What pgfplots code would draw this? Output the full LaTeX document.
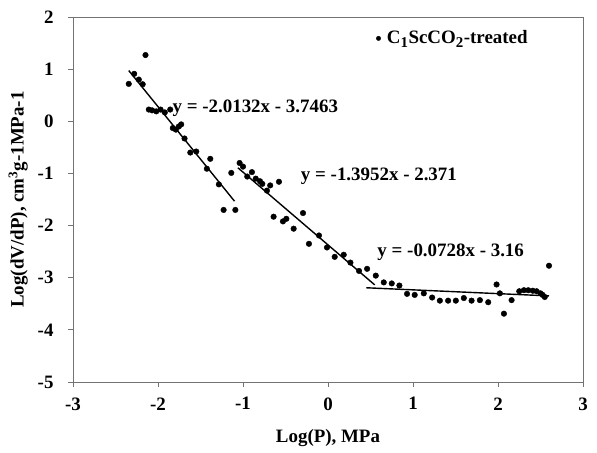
\documentclass[border=0pt]{standalone}
\usepackage{pgfplots}
\pgfplotsset{compat=1.18}
\usepackage{fontspec}
\setmainfont{Liberation Serif}
\begin{document}
\fontsize{19}{22}\selectfont\bfseries
\begin{tikzpicture}
\begin{axis}[
  name=ax,
  scale only axis,
  width=510bp, height=365bp,
  xmin=-3, xmax=3, ymin=-5, ymax=2,
  xtick={-3,-2,...,3}, ytick={-5,-4,...,2},
  axis line style={draw=gray!90!black, line width=0.8pt},
  tick style={draw=gray!90!black, line width=0.8pt},
  tick align=outside,
  major tick length=5bp,
  xtick pos=bottom, ytick pos=left,
  /pgf/number format/assume math mode=true,
  ticklabel style={font=\fontsize{19}{22}\selectfont\bfseries},
  xticklabel style={yshift=-4bp},
  yticklabel style={xshift=-8bp},
  xlabel={Log(P), MPa},
  ylabel={Log(dV/dP), cm\textsuperscript{3}g-1MPa-1},
  label style={font=\fontsize{19}{22}\selectfont\bfseries},
  xlabel style={yshift=-6bp},
  ylabel style={yshift=-3bp},
  legend style={draw=none, fill=none, at={(0.592,0.972)}, anchor=north west,
    font=\fontsize{19}{22}\selectfont\bfseries, inner sep=1pt},
  legend cell align=left,
  legend image code/.code={\fill[black] (0.15cm,0cm) circle (2.2bp);},
  clip=false,
]
\addplot[only marks, mark=*, mark size=2.8bp, color=black] table {
x y
-2.344 0.717
-2.28 0.91
-2.226 0.80
-2.18 0.71
-2.147 1.27
-2.108 0.225
-2.07 0.21
-2.02 0.19
-1.97 0.225
-1.92 0.17
-1.856 0.225
-1.826 -0.13
-1.79 -0.16
-1.755 -0.10
-1.727 -0.06
-1.688 -0.33
-1.62 -0.60
-1.55 -0.58
-1.425 -0.91
-1.385 -0.72
-1.284 -1.21
-1.228 -1.70
-1.138 -0.99
-1.09 -1.70
-1.04 -0.80
-1.00 -0.87
-0.95 -1.06
-0.895 -0.975
-0.85 -1.10
-0.80 -1.15
-0.773 -1.20
-0.718 -1.33
-0.68 -1.23
-0.64 -1.83
-0.577 -1.16
-0.53 -1.92
-0.49 -1.87
-0.404 -2.06
-0.294 -1.76
-0.224 -2.35
-0.106 -2.19
-0.012 -2.42
0.079 -2.60
0.185 -2.56
0.264 -2.71
0.365 -2.87
0.46 -2.83
0.562 -2.96
0.656 -3.09
0.75 -3.11
0.84 -3.15
0.93 -3.31
1.02 -3.33
1.127 -3.30
1.225 -3.38
1.316 -3.44
1.413 -3.44
1.504 -3.44
1.598 -3.39
1.689 -3.44
1.787 -3.43
1.885 -3.47
1.983 -3.13
2.022 -3.30
2.07 -3.69
2.16 -3.43
2.25 -3.26
2.305 -3.24
2.356 -3.24
2.41 -3.25
2.455 -3.26
2.50 -3.30
2.525 -3.33
2.55 -3.37
2.60 -2.77
};
\addlegendentry{\hspace{4bp}C\textsubscript{\fontsize{15}{15}\selectfont 1}ScCO\textsubscript{\fontsize{15}{15}\selectfont 2}-treated}
\addplot[black, line width=1.4pt, forget plot] coordinates {(-2.344,0.973) (-1.10,-1.532)};
\addplot[black, line width=1.4pt, forget plot] coordinates {(-1.06,-0.892) (0.55,-3.138)};
\addplot[black, line width=1.4pt, forget plot] coordinates {(0.45,-3.193) (2.6,-3.349)};
\node[anchor=west, inner sep=0pt] at (axis cs:-1.83,0.25) {y = -2.0132x - 3.7463};
\node[anchor=west, inner sep=0pt] at (axis cs:-0.32,-1.06) {y = -1.3952x - 2.371};
\node[anchor=west, inner sep=0pt] at (axis cs:0.58,-2.52) {y = -0.0728x - 3.16};
\end{axis}
\pgfresetboundingbox
\path ([shift={(-73bp,-71bp)}]ax.south west) rectangle ([shift={(14bp,17bp)}]ax.north east);
\end{tikzpicture}
\end{document}
